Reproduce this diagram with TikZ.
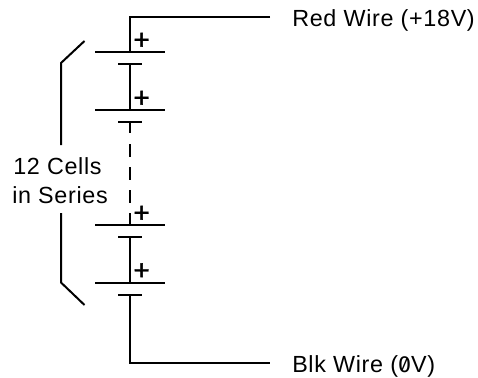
\documentclass[tikz,border=0pt]{standalone}
\usepackage{fontspec}
\setmainfont[LetterSpace=2.9]{Liberation Sans}
\newfontfamily\zerofont[RawFeature=+zero]{Fira Sans}
\newfontfamily\plusfont[FakeBold=1.5]{Liberation Sans}
\tikzset{
  wire/.style={line width=1.5pt,line cap=butt},
  lbl/.style={inner sep=0pt,font=\fontsize{17.5}{20}\selectfont,text=black},
  plus/.style={inner sep=0pt,font=\fontsize{21}{24}\plusfont\selectfont}
}
\begin{document}
\begin{tikzpicture}[x=0.75pt,y=-0.75pt]
\useasboundingbox (0,0) rectangle (478,378);
\fill[white] (0,0) rectangle (478,378);
% cell plates
\foreach \n/\y in {a/52,b/110,c/225,d/282.5}{
  \coordinate (\n L) at (95,\y);
  \coordinate (\n M) at (130,\y);
  \coordinate (\n R) at (165,\y);
  \coordinate (\n SL) at (118,\y+12);
  \coordinate (\n SM) at (130,\y+12);
  \coordinate (\n SR) at (142,\y+12);
  \draw[wire] (\n L) -- (\n R);
  \draw[wire] (\n SL) -- (\n SR);
  \node[plus] (\n P) at (141.7,\y-11) {+};
}
\coordinate (redend) at (270,17.5);
\coordinate (redcorner) at (130,17.5);
\coordinate (blkend) at (270,363);
\coordinate (blkcorner) at (130,363);
\coordinate (dashA) at (130,133);
\coordinate (dashB) at (130,144);
\coordinate (dashC) at (130,203);
\coordinate (dashD) at (130,213);
\draw[wire] (redend) -- (redcorner) -- (aM);
\draw[wire] (aSM) -- (bM);
\draw[wire] (bSM) -- (dashA);
\draw[wire,dash pattern=on 9.75pt off 7.5pt] (dashB) -- (dashC);
\draw[wire] (dashD) -- (cM);
\draw[wire] (cSM) -- (dM);
\draw[wire] (dSM) -- (blkcorner) -- (blkend);
% bracket
\coordinate (br1) at (84.5,41);
\coordinate (br2) at (61,63);
\coordinate (br3) at (61,145);
\coordinate (br4) at (61,213);
\coordinate (br5) at (61,282.5);
\coordinate (br6) at (84.5,305);
\draw[wire] (br1) -- (br2) -- (br3);
\draw[wire] (br4) -- (br5) -- (br6);
% labels
\node[lbl,anchor=base west] (red) at (292,27) {Red Wire (+18V)};
\node[lbl,anchor=base west] (blk) at (292,372) {Blk Wire ({\zerofont 0}V)};
\node[lbl,anchor=base west] (cells) at (13,174) {12 Cells};
\node[lbl,anchor=base west] (series) at (12,203) {in Series};
\end{tikzpicture}
\end{document}
